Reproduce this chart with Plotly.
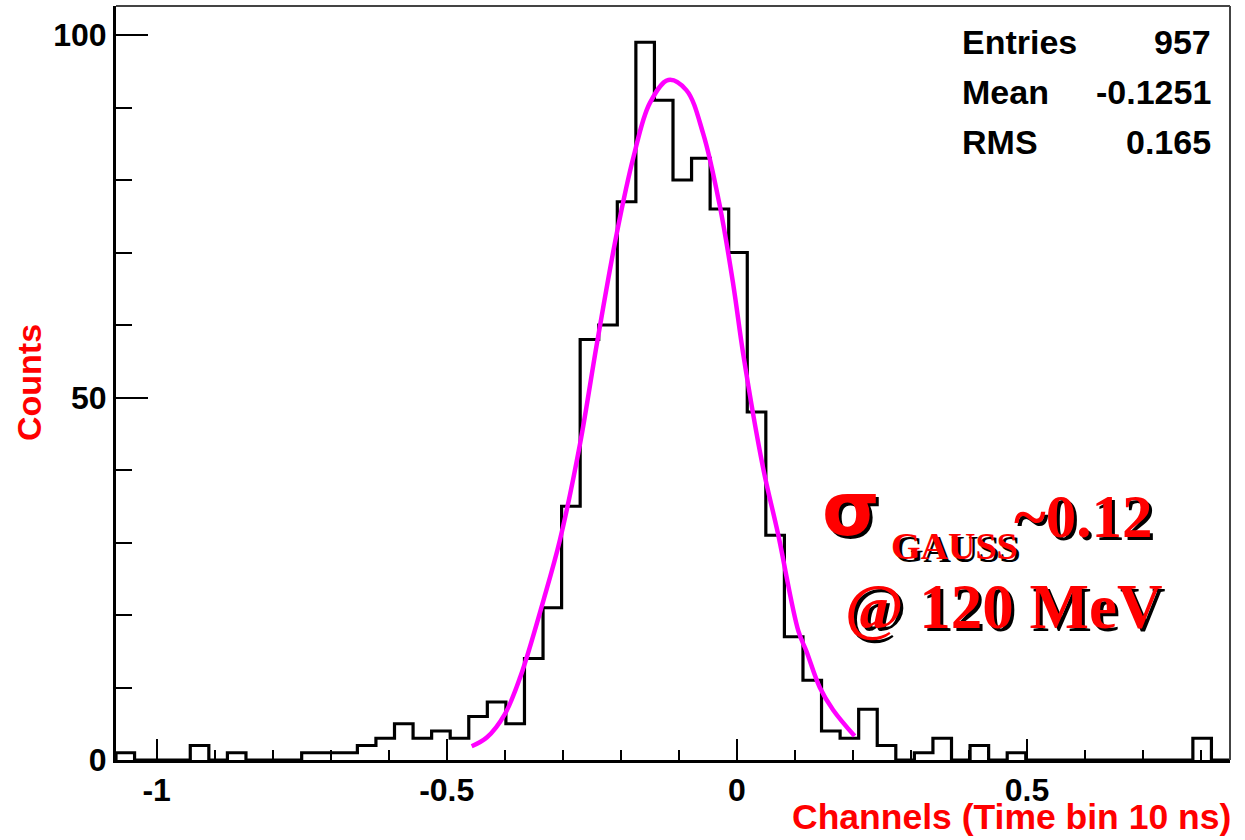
import plotly.graph_objects as go

# ---------------- data ----------------
bin_low = -1.07
bin_width = 0.032
counts = [1, 0, 0, 0, 2, 0, 1, 0, 0, 0,
          1, 1, 1, 2, 3, 5, 3, 4, 3, 6,
          8, 5, 14, 21, 35, 58, 60, 77, 99, 91,
          80, 83, 76, 70, 48, 31, 17, 11, 4, 3,
          7, 2, 0, 1, 3, 0, 2, 0, 1, 0,
          0, 0, 0, 0, 0, 0, 0, 0, 3, 0]

# Gaussian fit curve
fit_x = [-0.457, -0.431, -0.400, -0.373, -0.333, -0.305, -0.270, -0.241, -0.207,
         -0.178, -0.150, -0.118, -0.087, -0.058, -0.029, -0.006, 0.011, 0.045,
         0.071, 0.106, 0.120, 0.143, 0.166, 0.203]
fit_y = [1.9, 3.1, 6.3, 11.5, 22.1, 30.3, 43.7, 57.5, 72.6,
         83.2, 90.6, 93.8, 92.4, 86.4, 76.3, 65.5, 56.0, 40.4,
         31.2, 17.8, 15.0, 10.0, 6.9, 3.3]

stats_names = ["Entries", "Mean", "RMS"]
stats_values = ["957", "-0.1251", "0.165"]

x_tickvals = [-1, -0.5, 0, 0.5]
x_ticktext = ["-1", "-0.5", "0", "0.5"]
y_tickvals = [0, 50, 100]
y_ticktext = ["0", "50", "100"]

# ---------------- geometry ----------------
W, H = 1245, 840
L, R, T, B = 116, 15, 6, 80
PW, PH = W - L - R, H - T - B


def px(xp):
    return (xp - L) / PW


def py(yp):
    return (H - B - yp) / PH


edges = [bin_low + i * bin_width for i in range(len(counts) + 1)]
step_x = [edges[0]] + edges
step_y = [0] + counts + [0]

fig = go.Figure()
fig.add_trace(go.Scatter(x=step_x, y=step_y, mode="lines", line_shape="hv",
                         line=dict(color="black", width=3.2), showlegend=False,
                         hoverinfo="skip"))
fig.add_trace(go.Scatter(x=fit_x, y=fit_y, mode="lines", line_shape="spline",
                         line=dict(color="#ff00ff", width=4.5), showlegend=False,
                         hoverinfo="skip"))

tickfont = dict(family="Liberation Sans", size=32, color="black", weight="bold")

fig.update_layout(
    width=W, height=H,
    margin=dict(l=L, r=R, t=T, b=B, pad=0),
    paper_bgcolor="white", plot_bgcolor="white",
    xaxis=dict(range=[edges[0], edges[-1]], showgrid=False, zeroline=False,
               showline=True, linecolor="black", linewidth=3,
               ticks="inside", ticklen=21, tickwidth=2, tickcolor="black",
               tickvals=x_tickvals, ticktext=x_ticktext, tickfont=tickfont,
               minor=dict(dtick=0.1, tick0=0, ticks="inside", ticklen=10,
                          tickwidth=2, tickcolor="black", showgrid=False)),
    yaxis=dict(range=[0, 104], showgrid=False, zeroline=False,
               showline=True, linecolor="black", linewidth=3,
               ticks="inside", ticklen=32, tickwidth=2, tickcolor="black",
               tickvals=y_tickvals, ticktext=y_ticktext, tickfont=tickfont,
               minor=dict(dtick=10, tick0=0, ticks="inside", ticklen=16,
                          tickwidth=2, tickcolor="black", showgrid=False)),
    shapes=[
        dict(type="line", xref="paper", yref="paper", x0=0, x1=1, y0=1, y1=1,
             line=dict(color="#444444", width=2)),
        dict(type="line", xref="paper", yref="paper", x0=1, x1=1, y0=0, y1=1,
             line=dict(color="#444444", width=2)),
    ],
)

ann = []
red = "#ff0000"
# axis titles
ann.append(dict(text="Counts", x=px(29), y=py(383), xref="paper", yref="paper",
                showarrow=False, textangle=-90, xanchor="center", yanchor="middle",
                font=dict(family="Liberation Sans", size=34, color=red, weight="bold")))
ann.append(dict(text="Channels (Time bin 10 ns)", x=px(1233), y=py(839), xref="paper",
                yref="paper", showarrow=False, xanchor="right", yanchor="bottom",
                font=dict(family="Liberation Sans", size=35.5, color=red, weight="bold")))
# stats
for i, (n, v) in enumerate(zip(stats_names, stats_values)):
    yc = 42 + 50 * i
    ann.append(dict(text=n, x=px(960), y=py(yc), xref="paper", yref="paper",
                    showarrow=False, xanchor="left", yanchor="middle",
                    font=dict(family="Liberation Sans", size=34, color="black",
                              weight="bold")))
    ann.append(dict(text=v, x=px(1213), y=py(yc), xref="paper", yref="paper",
                    showarrow=False, xanchor="right", yanchor="middle",
                    font=dict(family="Liberation Sans", size=34, color="black",
                              weight="bold")))


# fit text with shadow
def shadow_text(text, xp, yp, family, size, xanchor="left"):
    for dx, dy, col in [(3, 3, "black"), (0, 0, red)]:
        ann.append(dict(text=text, x=px(xp), y=py(yp), xref="paper", yref="paper",
                        xshift=dx, yshift=-dy, showarrow=False, xanchor=xanchor,
                        yanchor="middle",
                        font=dict(family=family, size=size, color=col, weight="bold")))


shadow_text("σ", 851, 509, "DejaVu Sans", 74, xanchor="center")
shadow_text("GAUSS", 889, 546, "Liberation Serif", 38)
shadow_text("~0.12", 1012, 516, "Liberation Serif", 61)
shadow_text("@ 120 MeV", 1004, 607, "Liberation Serif", 63, xanchor="center")

fig.update_layout(annotations=ann)
fig.write_html("out.html")
